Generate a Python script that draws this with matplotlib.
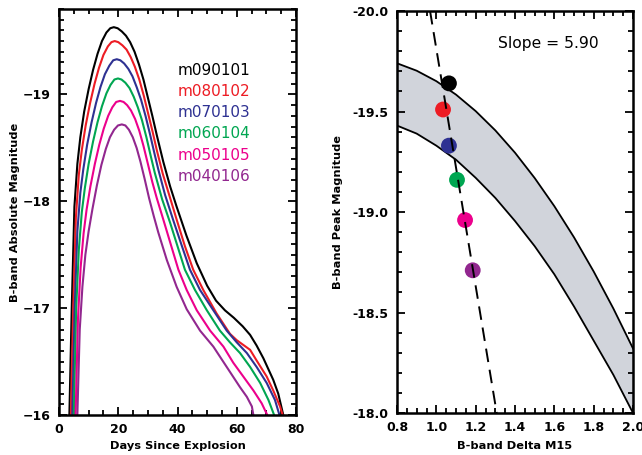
import matplotlib
matplotlib.use("Agg")
import matplotlib.pyplot as plt
from matplotlib.ticker import MultipleLocator, FormatStrFormatter

# light curves (days since explosion, B-band absolute magnitude)
model_names = ["m090101", "m080102", "m070103", "m060104", "m050105", "m040106"]
model_colors = ["#000000", "#ed1c24", "#2e3192", "#00a651", "#ec008c", "#92278f"]

days_m090101 = [3.5, 4.3, 5.2, 6.2, 7.2, 8.5, 10.0, 11.5, 13.0, 14.5, 16.0, 17.3, 18.5, 19.8,
                21.2, 22.6, 24.0, 25.5, 27.0, 28.5, 30.0, 31.5, 33.0, 35.2, 37.5, 39.7, 43.0,
                46.5, 50.0, 53.0, 56.0, 59.0, 62.0, 64.5, 66.7, 69.0, 72.3, 74.0, 75.7]
mag_m090101 = [-16.0, -17.0, -17.95, -18.35, -18.6, -18.84, -19.05, -19.23, -19.38, -19.50,
               -19.58, -19.62, -19.63, -19.62, -19.59, -19.55, -19.49, -19.40, -19.28, -19.14,
               -18.97, -18.80, -18.62, -18.37, -18.14, -17.95, -17.68, -17.42, -17.21, -17.07,
               -16.98, -16.91, -16.83, -16.75, -16.65, -16.53, -16.33, -16.20, -16.0]

days_m080102 = [4.0, 4.8, 5.7, 6.7, 7.7, 9.0, 10.5, 12.0, 13.5, 15.0, 16.5, 17.7, 18.8, 20.0,
                21.4, 22.8, 24.2, 25.6, 27.1, 28.6, 30.1, 31.6, 33.0, 35.0, 37.3, 39.7, 42.5,
                45.3, 48.7, 53.2, 57.7, 60.0, 64.5, 66.7, 70.1, 72.3, 74.6, 75.5]
mag_m080102 = [-16.0, -17.0, -17.85, -18.25, -18.48, -18.71, -18.92, -19.10, -19.25, -19.37,
               -19.45, -19.49, -19.50, -19.49, -19.46, -19.42, -19.35, -19.26, -19.14, -18.99,
               -18.82, -18.65, -18.48, -18.26, -18.05, -17.83, -17.58, -17.36, -17.17, -16.95,
               -16.76, -16.70, -16.61, -16.51, -16.36, -16.23, -16.08, -16.0]

days_m070103 = [4.5, 5.3, 6.2, 7.2, 8.2, 9.5, 11.0, 12.5, 14.0, 15.5, 17.0, 18.3, 19.5, 20.7,
                22.0, 23.4, 24.8, 26.2, 27.7, 29.2, 30.7, 32.2, 33.5, 35.8, 38.6, 41.5, 44.2,
                47.6, 52.1, 56.6, 60.0, 63.4, 66.7, 70.1, 72.9, 74.4]
mag_m070103 = [-16.0, -17.0, -17.72, -18.08, -18.30, -18.53, -18.74, -18.92, -19.07, -19.19,
               -19.27, -19.32, -19.33, -19.32, -19.29, -19.24, -19.17, -19.07, -18.95, -18.80,
               -18.63, -18.45, -18.30, -18.06, -17.82, -17.58, -17.36, -17.17, -16.98, -16.79,
               -16.68, -16.58, -16.45, -16.30, -16.14, -16.0]

days_m060104 = [5.0, 5.8, 6.7, 7.7, 8.7, 10.0, 11.5, 13.0, 14.5, 16.0, 17.4, 18.7, 19.9, 21.1,
                22.4, 23.8, 25.2, 26.6, 28.0, 29.5, 31.0, 32.3, 34.8, 37.5, 40.0, 42.5, 45.9,
                49.9, 54.3, 57.7, 61.1, 64.5, 67.9, 70.7, 72.6]
mag_m060104 = [-16.0, -17.0, -17.55, -17.90, -18.12, -18.35, -18.56, -18.74, -18.89, -19.01,
               -19.09, -19.14, -19.15, -19.14, -19.11, -19.06, -18.98, -18.88, -18.76, -18.60,
               -18.42, -18.27, -18.02, -17.80, -17.58, -17.36, -17.17, -16.98, -16.79, -16.68,
               -16.58, -16.45, -16.30, -16.14, -16.0]

days_m050105 = [5.6, 6.4, 7.3, 8.3, 9.3, 10.6, 12.1, 13.6, 15.1, 16.6, 18.0, 19.3, 20.6, 21.8,
                23.0, 24.3, 25.7, 27.1, 28.5, 30.0, 31.5, 33.0, 35.2, 37.8, 40.3, 43.1, 46.5,
                51.0, 55.5, 58.8, 62.2, 65.6, 68.4, 70.3]
mag_m050105 = [-16.0, -16.9, -17.38, -17.70, -17.92, -18.14, -18.35, -18.53, -18.68, -18.80,
               -18.88, -18.93, -18.94, -18.93, -18.90, -18.85, -18.77, -18.66, -18.52, -18.35,
               -18.18, -18.03, -17.83, -17.59, -17.36, -17.17, -16.98, -16.79, -16.64, -16.49,
               -16.36, -16.23, -16.11, -16.0]

days_m040106 = [6.2, 7.0, 7.9, 8.9, 10.0, 11.3, 12.8, 14.3, 15.8, 17.2, 18.6, 19.9, 21.2, 22.4,
                23.6, 24.9, 26.2, 27.5, 28.9, 30.4, 32.0, 33.5, 36.4, 39.7, 43.1, 47.6, 52.1,
                56.6, 61.1, 63.4, 65.1, 65.6]
mag_m040106 = [-16.0, -16.8, -17.2, -17.5, -17.72, -17.93, -18.15, -18.34, -18.49, -18.60,
               -18.67, -18.71, -18.72, -18.71, -18.67, -18.60, -18.50, -18.37, -18.21, -18.03,
               -17.86, -17.71, -17.45, -17.20, -16.99, -16.79, -16.64, -16.45, -16.26, -16.17,
               -16.08, -16.0]

curve_days = [days_m090101, days_m080102, days_m070103, days_m060104, days_m050105, days_m040106]
curve_mags = [mag_m090101, mag_m080102, mag_m070103, mag_m060104, mag_m050105, mag_m040106]

# peak magnitude vs delta m15
dm15 = [1.064, 1.034, 1.064, 1.105, 1.146, 1.185]
peak_mag = [-19.64, -19.51, -19.33, -19.16, -18.96, -18.71]

# fitted line, read at the frame edges
fit_dm15 = [0.968, 1.307]
fit_mag = [-20.0, -18.0]
slope_label = "Slope = 5.90"

# observed relation band
band_dm15 = [0.8, 0.9, 1.0, 1.1, 1.2, 1.3, 1.4, 1.5, 1.6, 1.7, 1.8, 1.9, 2.0]
band_bright = [-19.74, -19.703, -19.651, -19.584, -19.502, -19.406, -19.295, -19.169,
               -19.029, -18.874, -18.704, -18.520, -18.321]
band_faint = [-19.43, -19.39, -19.33, -19.26, -19.17, -19.07, -18.955, -18.83, -18.69,
              -18.53, -18.36, -18.19, -18.0]


def style_axes(ax):
    for s in ax.spines.values():
        s.set_linewidth(1.8)
    ax.tick_params(which="both", direction="in", top=True, right=True, width=1.3,
                   labelsize=9, pad=6)
    ax.tick_params(which="major", length=6)
    ax.tick_params(which="minor", length=3.5)
    for lab in ax.get_xticklabels() + ax.get_yticklabels():
        lab.set_fontweight("bold")


fig = plt.figure(figsize=(6.42, 4.55), dpi=100)

# left panel: light curves
ax1 = fig.add_axes([0.0919, 0.0879, 0.3692, 0.8923])
for d, m, c in zip(curve_days, curve_mags, model_colors):
    ax1.plot(d, m, color=c, lw=1.5)
ax1.set_xlim(0, 80)
ax1.set_ylim(-16, -19.8)
ax1.xaxis.set_major_locator(MultipleLocator(20))
ax1.xaxis.set_minor_locator(MultipleLocator(5))
ax1.yaxis.set_major_locator(MultipleLocator(1))
ax1.yaxis.set_minor_locator(MultipleLocator(0.1))
style_axes(ax1)
ax1.set_xlabel("Days Since Explosion", fontsize=8.2, fontweight="bold")
ax1.set_ylabel("B-band Absolute Magnitude", fontsize=8.2, fontweight="bold")
ax1.xaxis.set_label_coords(0.5, -0.064)
ax1.yaxis.set_label_coords(-0.165, 0.5)
for i, (name, c) in enumerate(zip(model_names, model_colors)):
    ax1.text(0.50, 0.849 - i * 0.0522, name, color=c, fontsize=11,
             transform=ax1.transAxes, va="center", ha="left")

# right panel: peak magnitude vs delta m15
ax2 = fig.add_axes([0.6184, 0.0923, 0.3676, 0.8835])
ax2.fill_between(band_dm15, band_bright, band_faint, color="#d1d4db", lw=0, zorder=1)
ax2.plot(band_dm15, band_bright, color="black", lw=1.3, zorder=2)
ax2.plot(band_dm15, band_faint, color="black", lw=1.3, zorder=2)
ax2.scatter(dm15, peak_mag, s=130, c=model_colors, zorder=3, lw=0)
ax2.plot(fit_dm15, fit_mag, color="black", lw=1.4, dashes=(7, 4), zorder=4)
ax2.set_xlim(0.8, 2.0)
ax2.set_ylim(-18.0, -20.0)
ax2.xaxis.set_major_locator(MultipleLocator(0.2))
ax2.xaxis.set_minor_locator(MultipleLocator(0.05))
ax2.yaxis.set_major_locator(MultipleLocator(0.5))
ax2.yaxis.set_minor_locator(MultipleLocator(0.1))
ax2.xaxis.set_major_formatter(FormatStrFormatter("%.1f"))
ax2.yaxis.set_major_formatter(FormatStrFormatter("%.1f"))
style_axes(ax2)
ax2.set_xlabel("B-band Delta M15", fontsize=8.2, fontweight="bold")
ax2.set_ylabel("B-band Peak Magnitude", fontsize=8.2, fontweight="bold")
ax2.xaxis.set_label_coords(0.5, -0.070)
ax2.yaxis.set_label_coords(-0.229, 0.5)
ax2.text(0.642, 0.918, slope_label, fontsize=11.2, transform=ax2.transAxes,
         ha="center", va="center")

fig.savefig("out.png", dpi=100)
